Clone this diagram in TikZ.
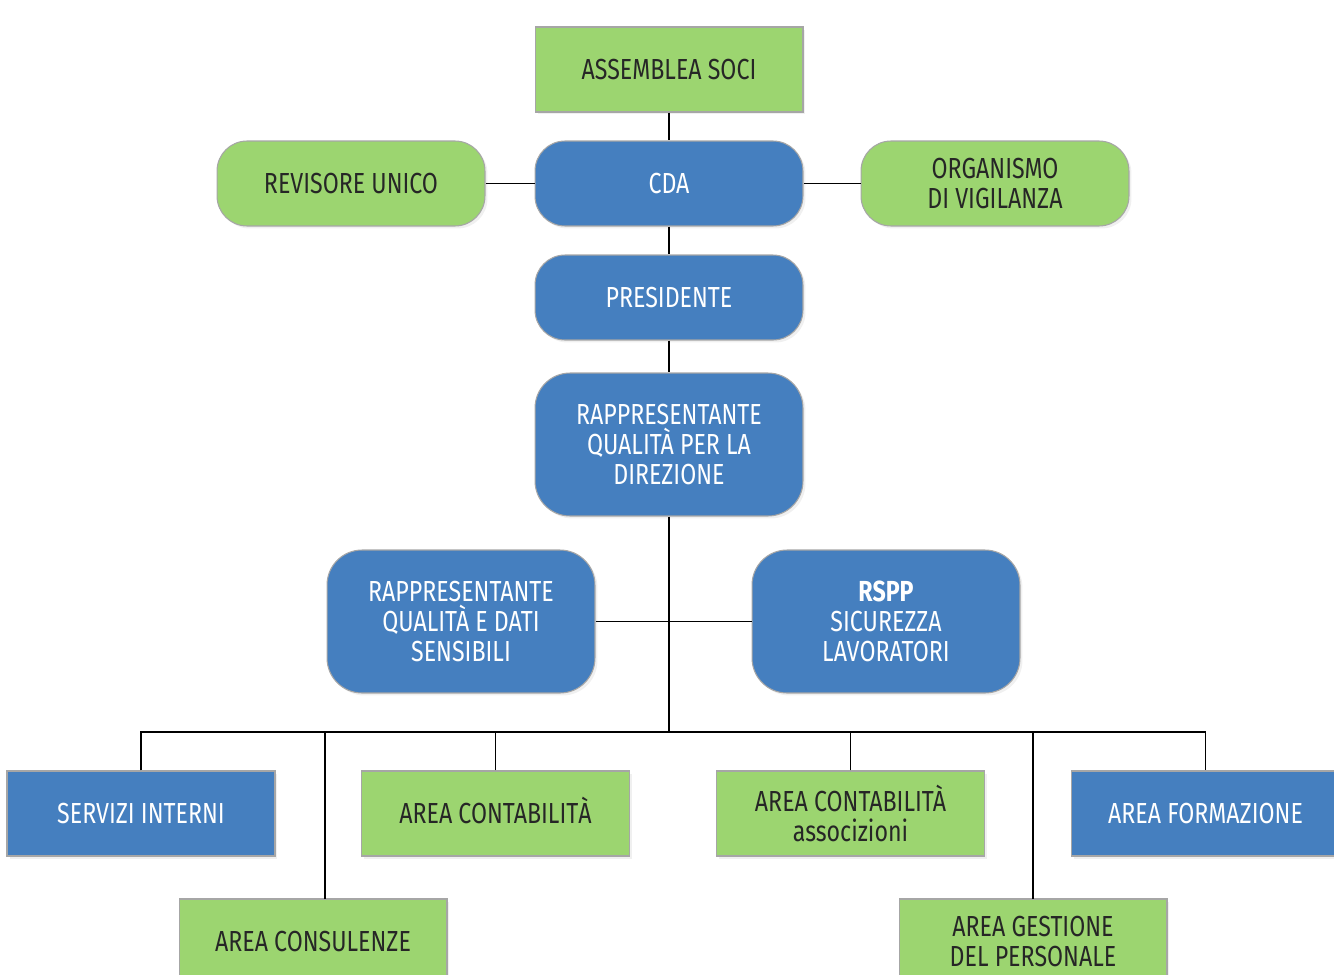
\documentclass[tikz,border=0pt]{standalone}
\usepackage{fontspec}
\setmainfont{Fira Sans}[FakeStretch=0.8]
\usetikzlibrary{shadows}
\definecolor{boxgreen}{HTML}{9CD570}
\definecolor{boxblue}{HTML}{457FBF}
\tikzstyle{box}    = [draw=gray!70, line width=0.6pt, minimum width=5.36cm, minimum height=1.7cm,
                      align=center, font=\fontsize{16.5}{17.2}\selectfont,
                      drop shadow={opacity=0.12, shadow xshift=0.05cm, shadow yshift=-0.05cm}]
\tikzstyle{green}  = [box, fill=boxgreen, text=black!85]
\tikzstyle{blue}   = [box, fill=boxblue, text=white]
\tikzstyle{pill}   = [rounded corners=0.6cm]
\tikzstyle{tall}   = [minimum height=2.86cm, rounded corners=0.7cm]
\tikzstyle{link}   = [line width=1pt]

\begin{document}
\begin{tikzpicture}[x=0.02cm, y=-0.02cm]
    \useasboundingbox (0,0) rectangle (1334,974);
    % top of the chart
    \node[green] (soci) at (669,69.5) {ASSEMBLEA SOCI};
    \node[blue,pill] (cda) at (669,183.5) {CDA};
    \node[green,pill] (revisore) at (351,183.5) {REVISORE UNICO};
    \node[green,pill] (odv) at (995,183.5) {ORGANISMO\\DI VIGILANZA};
    \node[blue,pill] (presidente) at (669,297.5) {PRESIDENTE};
    \node[blue,tall] (rqd) at (669,444.5) {RAPPRESENTANTE\\QUALIT\`A PER LA\\DIREZIONE};
    \node[blue,tall] (rqs) at (461,621.5) {RAPPRESENTANTE\\QUALIT\`A E DATI\\SENSIBILI};
    \node[blue,tall] (rspp) at (886,621.5) {\textbf{RSPP}\\SICUREZZA\\LAVORATORI};
    % areas
    \node[blue] (servizi) at (141,813.5) {SERVIZI INTERNI};
    \node[green] (contab) at (495.5,813.5) {AREA CONTABILIT\smash{\`A}};
    \node[green] (assoc) at (850.5,813.5) {AREA CONTABILIT\`A\\associzioni};
    \node[blue] (formazione) at (1205.5,813.5) {AREA FORMAZIONE};
    \node[green] (consulenze) at (313,941.5) {AREA CONSULENZE};
    \node[green] (personale) at (1033,941.5) {AREA GESTIONE\\DEL PERSONALE};
    \coordinate (bus) at (669,732);
    \coordinate (cons) at (325,899);
    \coordinate (pers) at (1033,899);

    \draw[link] (soci) -- (cda) -- (presidente) -- (rqd);
    \draw[link] (revisore) -- (cda) -- (odv);
    \draw[link] (rqd) -- (bus);
    \draw[link] (rqs) -- (rspp);
    \draw[link] (servizi.north) |- (bus) -| (formazione.north);
    \foreach \n in {contab,assoc} {
      \draw[link] (\n.north) -- (\n.north |- bus);
    }
    \foreach \c in {cons,pers} {
      \draw[link] (\c) -- (\c |- bus);
    }
\end{tikzpicture}
\end{document}
